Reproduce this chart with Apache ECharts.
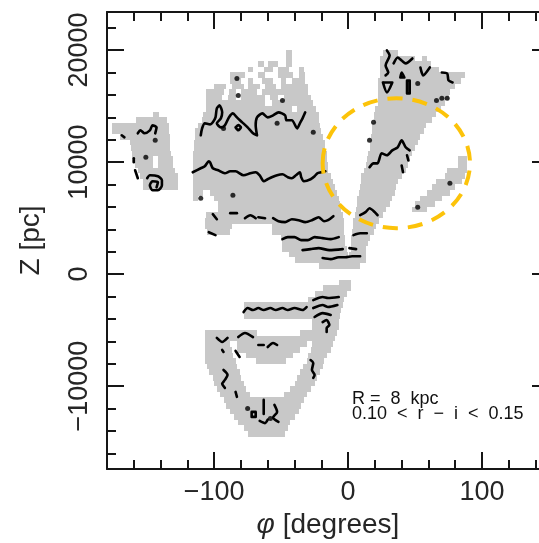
<!DOCTYPE html>
<html>
<head>
<meta charset="utf-8">
<script src="https://cdn.jsdelivr.net/npm/echarts@6/dist/echarts.min.js"></script>
<style>
  html, body { margin: 0; padding: 0; background: #fff; }
  #chart { width: 539px; height: 543px; }
</style>
</head>
<body>
<div id="chart"></div>
<script>
// Each occupied row segment: [zBottom (pc), phiStart (deg), phiEnd (deg)]; rows are ROW_H tall.
const ROW_H = 500;

const leftLobe = [
  [14000,-146,-141],
  [13500,-158,-135],
  [13000,-176,-134],
  [12500,-176,-134],
  [12000,-170,-133],
  [11500,-163,-133],
  [11000,-162,-133],
  [10500,-161,-132],
  [10000,-161,-146],[10000,-142,-131],
  [9500,-159,-146],[9500,-142,-131],
  [9000,-157,-129],
  [8500,-155,-127],
  [8000,-153,-127],
  [7500,-153,-127]
];

const mainLobe = [
  [19500,-46,-42],
  [19000,-46,-42],
  [18500,-67,-63],[18500,-60,-52],[18500,-46,-42],
  [18000,-75,-71],[18000,-63,-56],[18000,-52,-44],[18000,-37,-33],
  [17500,-88,-77],[17500,-67,-62],[17500,-52,-41],[17500,-37,-32],
  [17000,-88,-80],[17000,-75,-71],[17000,-64,-56],[17000,-50,-46],[17000,-42,-32],
  [16500,-100,-91],[16500,-87,-78],[16500,-75,-66],[16500,-62,-54],[16500,-50,-30],
  [16000,-106,-93],[16000,-89,-84],[16000,-80,-68],[16000,-64,-30],
  [15500,-106,-94],[15500,-90,-84],[15500,-80,-62],[15500,-58,-52],[15500,-48,-28],
  [15000,-106,-62],[15000,-57,-26],
  [14500,-106,-42],[14500,-38,-24],
  [14000,-108,-22],
  [13500,-109,-22],
  [13000,-112,-21],
  [12500,-114,-20],
  [12000,-114,-19],
  [11500,-115,-17],
  [11000,-115,-17],
  [10500,-116,-16],
  [10000,-116,-16],
  [9500,-116,-15],
  [9000,-116,-15],
  [8500,-116,-13],
  [8000,-116,-11],
  [7500,-116,-10],
  [7000,-116,-108],[7000,-103,-8],
  [6500,-116,-112],[6500,-100,-7],
  [6000,-97,-6],
  [5500,-97,-5],
  [5000,-106,-4],
  [4500,-107,-3],
  [4000,-107,-87],[4000,-57,-3],
  [3500,-105,-88],[3500,-57,-3],
  [3000,-50,-2],
  [2500,-49,-2],
  [2000,-49,-1],
  [1500,-44,0],
  [1000,-40,13],
  [500,-22,9]
];

const wedge = [
  [19500,26,37],
  [19000,24,50],[19000,55,59],
  [18500,24,62],
  [18000,24,68],
  [17500,24,87],
  [17000,22,84],
  [16500,22,80],
  [16000,22,76],
  [15500,22,75],
  [15000,22,72],
  [14500,20,69],
  [14000,19,66],
  [13500,19,63],
  [13000,18,58],
  [12500,18,57],
  [12000,17,54],
  [11500,16,52],
  [11000,16,50],
  [10500,15,48],
  [10000,14,46],
  [9500,13,45],
  [9000,12,43],
  [8500,10,40],
  [8000,10,37],
  [7500,9,36],
  [7000,8,35],
  [6500,7,33],
  [6000,7,31],
  [5500,6,28],
  [5000,5,26],
  [4500,4,23],
  [4000,4,21],
  [3500,3,19],
  [3000,2,16],
  [2500,2,15],
  [2000,2,13],
  [1500,1,13]
];

const strip = [
  [10000,82,89],[9500,82,89],[9000,74,89],[8500,72,87],[8000,66,85],
  [7500,63,80],[7000,59,76],[6500,54,70],[6000,50,65],[5500,48,59]
];

const lowerArc = [
  [-1000,-7,2],
  [-1500,-19,2],
  [-2000,-25,-1],
  [-2500,-30,-3],
  [-3000,-78,-4],
  [-3500,-78,-5],
  [-4000,-78,-6],
  [-4500,-27,-7],
  [-5000,-27,-7],
  [-5500,-107,-68],[-5500,-36,-8],
  [-6000,-107,-10],
  [-6500,-107,-88],[-6500,-83,-31],[-6500,-27,-11],
  [-7000,-107,-87],[-7000,-83,-36],[-7000,-28,-13],
  [-7500,-107,-86],[-7500,-76,-41],[-7500,-30,-16],
  [-8000,-107,-84],[-8000,-69,-46],[-8000,-31,-18],
  [-8500,-105,-83],[-8500,-34,-19],
  [-9000,-104,-81],[-9000,-36,-21],
  [-9500,-101,-80],[-9500,-38,-23],
  [-10000,-100,-78],[-10000,-40,-25],
  [-10500,-98,-76],[-10500,-43,-28],
  [-11000,-96,-73],[-11000,-48,-31],
  [-11500,-93,-33],
  [-12000,-91,-35],
  [-12500,-88,-37],
  [-13000,-85,-40],
  [-13500,-82,-43],
  [-14000,-78,-45],
  [-14500,-75,-47]
];

// Contour paths, [phi, Z] vertices
const contours = [
  [[-116,9090],[-110,9450],[-107,9630],[-104,10070],[-103,9980],[-101,9450],[-97,9270],[-92,9000],[-88,9180],[-84,9180],[-78,8820],[-73,9000],[-69,9090],[-66,8820],[-63,8290],[-60,8470],[-57,8650],[-53,8830],[-49,8910],[-45,8650],[-42,8560],[-39,8820],[-36,9090],[-35,8650],[-33,8290],[-28,8470],[-25,8740],[-23,9000],[-20,9090],[-17,9180]],
  [[-110,12390],[-109,13010],[-107,13460],[-103,13370],[-101,13550],[-99,13990],[-98,14800],[-96,15060],[-94,14440],[-95,13900],[-98,13460],[-95,13100],[-92,13280],[-89,13990],[-86,14350],[-83,13990],[-79,13550],[-75,13100],[-71,12570],[-68,12390],[-69,13280],[-68,13990],[-64,14350],[-60,13990],[-56,14170],[-52,14440],[-47,14170],[-46,13730],[-42,13730],[-38,13010],[-36,13460],[-34,13900],[-32,14440]],
  [[-84,13100],[-82,13300],[-80,13100],[-82,12850],[-84,13100]],
  [[-56,4990],[-52,4720],[-47,4640],[-42,4900],[-37,4810],[-32,4640],[-27,4810],[-22,5080],[-18,4720],[-15,4810],[-11,5170]],
  [[-49,3120],[-45,3300],[-40,3300],[-35,3030],[-30,3030],[-25,3300],[-19,3210],[-13,3120],[-7,3300]],
  [[-34,2140],[-28,2230],[-22,2320],[-14,2140],[-4,2230]],
  [[-19,1430],[-13,1340],[-7,1510],[-2,1510],[3,1600],[9,1600]],
  [[-88,5440],[-83,5440]],
  [[-77,4990],[-73,5260],[-69,4990]],
  [[-67,5080],[-62,4990]],
  [[-101,5350],[-98,4900]],
  [[-104,3740],[-99,3480]],
  [[16,9540],[19,9890],[22,9890],[25,10790],[29,10610],[33,11050],[37,11320],[40,11940],[43,11320],[46,11050]],
  [[44,10610],[45,10160]],
  [[40,9700],[41,9090]],
  [[9,5260],[13,5530],[16,5880],[20,5530],[22,5260]],
  [[4,3480],[9,3650],[14,3650]],
  [[1,2320],[6,2230]],
  [[29,19970],[31,19520],[28,18630],[30,18000],[28,17740]],
  [[34,18810],[37,19340],[40,19070],[43,18810],[48,19250]],
  [[26,17110],[33,17110],[29,16220],[26,17110]],
  [[39,17560],[42,17560],[40,18000],[39,17560]],
  [[44,17290],[46,17290],[46,16130],[44,16130],[44,17290]],
  [[54,18450],[56,17740],[61,18450]],
  [[70,18000],[74,17910],[75,17290],[78,17110]],
  [[-157,12570],[-155,12830],[-152,12570],[-148,12830],[-146,13280],[-143,13100],[-144,12570]],
  [[-150,8560],[-148,8820],[-142,8730],[-139,8380],[-139,7930],[-142,7480],[-146,7480],[-148,7930],[-146,8290],[-142,8200],[-143,7750]],
  [[-169,12390],[-167,12210]],
  [[-160,10340],[-160,9980]],
  [[-159,9270],[-157,8560]],
  [[-78,-3390],[-75,-3030],[-71,-3210],[-67,-3030],[-63,-3210],[-58,-3030],[-54,-3210],[-49,-3030],[-45,-3210],[-40,-3030],[-34,-3210],[-31,-2940]],
  [[-26,-2320],[-19,-2050],[-15,-2140],[-7,-2050]],
  [[-26,-3030],[-19,-2760],[-15,-2940],[-8,-2760]],
  [[-25,-3830],[-19,-3480],[-13,-3650]],
  [[-19,-4280],[-16,-4100],[-14,-4550],[-16,-4810],[-16,-5170]],
  [[-98,-5700],[-94,-6060],[-90,-5700]],
  [[-82,-5620],[-77,-5260],[-71,-5620]],
  [[-67,-6330],[-63,-6330]],
  [[-60,-6510],[-56,-6150],[-53,-6330]],
  [[-94,-6770],[-93,-6950]],
  [[-84,-6860],[-81,-7400]],
  [[-93,-8560],[-90,-9000],[-92,-9450],[-94,-9800],[-92,-10160]],
  [[-84,-10520],[-83,-10960]],
  [[-28,-7670],[-26,-7930],[-27,-8560],[-25,-9000],[-26,-9270]],
  [[-63,-11230],[-63,-12480]],
  [[-55,-11680],[-53,-12300],[-56,-12800],[-52,-13200]],
  [[-72,-12300],[-69,-12300],[-69,-12750],[-72,-12750],[-72,-12300]],
  [[-66,-13100],[-62,-13300],[-60,-13000]]
];

// Isolated contour dots
const dots = [
  [-86,7040],[-93,13010],[-83,17470],[-82,15950],[-49,15510],[-53,13460],[-26,12660],
  [-144,11940],[-151,10430],[19,13550],[16,11940],[66,15510],[70,15690],[74,15690],
  [52,17020],[76,8110],[52,5970],[-110,6770],[-75,-12000],[-58,-12900]
];

// Highlight ellipse: [phiCenter, zCenter, phiRadius, zRadius]
const highlight = [36, 9900, 55, 5800];

// Axis ticks and labels
const phiRange = [-180, 150];
const zRange = [-17400, 23400];
const phiMinorStep = 20;
const phiMajorTicks = [-100, 0, 100];
const zMajorTicks = [-10000, 0, 10000, 20000];
const zMinorTicks = [-16000, -14000, -12000, -10000, -8000, -6000, -4000, -2000, 0, 2000,
  4000, 6000, 8000, 10000, 12000, 14000, 16000, 18000, 20000, 22000];

const INK = '#161616';
const TEXT = '#262626';
const FONT = '"Liberation Sans", Arial, sans-serif';
const fmt = v => (v < 0 ? '\u2212' + Math.abs(v) : String(v));

const cellRuns = [].concat(leftLobe, mainLobe, wedge, strip, lowerArc);

function xAx(position, major, withLabels) {
  const ax = {
    type: 'value', position: position, min: phiRange[0], max: phiRange[1],
    interval: phiMinorStep,
    splitLine: { show: false },
    axisLine: { show: !major, onZero: false, lineStyle: { color: INK, width: 2 } },
    axisTick: { show: true, inside: true, length: major ? 17 : 9, lineStyle: { color: INK, width: 2 } },
    axisLabel: { show: false }
  };
  if (major) ax.axisTick.customValues = phiMajorTicks;
  if (withLabels) {
    ax.axisLabel = {
      show: true, customValues: phiMajorTicks, formatter: fmt, margin: 10,
      fontSize: 27, fontFamily: FONT, color: TEXT
    };
    ax.name = '{i|\u03c6} [degrees]';
    ax.nameLocation = 'middle';
    ax.nameGap = 40;
    ax.nameTextStyle = {
      fontSize: 28, fontFamily: FONT, color: TEXT,
      rich: { i: { fontSize: 28, fontStyle: 'italic', fontFamily: FONT, color: TEXT } }
    };
  }
  return ax;
}

function yAx(position, major, withLabels, showLine) {
  const ax = {
    type: 'value', position: position, min: zRange[0], max: zRange[1],
    splitLine: { show: false },
    axisLine: { show: showLine, onZero: false, lineStyle: { color: INK, width: 2 } },
    axisTick: { show: true, inside: true, length: major ? 17 : 9,
      customValues: major ? zMajorTicks : zMinorTicks, lineStyle: { color: INK, width: 2 } },
    axisLabel: { show: false }
  };
  if (withLabels) {
    ax.axisLabel = {
      show: true, customValues: zMajorTicks, formatter: fmt, rotate: 90, margin: 14,
      fontSize: 27, fontFamily: FONT, color: TEXT
    };
    ax.name = 'Z [pc]';
    ax.nameLocation = 'middle';
    ax.nameGap = 62;
    ax.nameTextStyle = { fontSize: 28, fontFamily: FONT, color: TEXT };
  }
  return ax;
}

const series = [];

series.push({
  type: 'custom',
  z: 1,
  clip: true,
  silent: true,
  encode: { x: 0, y: 1 },
  data: cellRuns.map(r => [r[1], r[0], r[2]]),
  renderItem: function (params, api) {
    const a = api.coord([api.value(0), api.value(1) + ROW_H]);
    const b = api.coord([api.value(2), api.value(1)]);
    const x0 = Math.round(a[0]), y0 = Math.round(a[1]);
    const x1 = Math.round(b[0]), y1 = Math.round(b[1]);
    return {
      type: 'rect',
      shape: { x: x0, y: y0, width: x1 - x0, height: y1 - y0 },
      style: { fill: '#c8c8c8' }
    };
  }
});

contours.forEach(path => {
  series.push({
    type: 'line',
    z: 3,
    silent: true,
    symbol: 'none',
    smooth: 0.25,
    data: path,
    lineStyle: { color: '#000', width: 2.6, cap: 'round', join: 'round' }
  });
});

series.push({
  type: 'scatter',
  z: 3,
  silent: true,
  symbol: 'circle',
  symbolSize: 5,
  data: dots,
  itemStyle: { color: '#000' }
});

series.push({
  type: 'custom',
  z: 5,
  silent: true,
  clip: false,
  encode: { x: 0, y: 1 },
  data: [highlight],
  renderItem: function (params, api) {
    const c = api.coord([api.value(0), api.value(1)]);
    const s = api.size([api.value(2), api.value(3)]);
    return {
      type: 'ellipse',
      shape: { cx: c[0], cy: c[1], rx: s[0], ry: s[1] },
      style: { fill: 'none', stroke: '#fcc30a', lineWidth: 4, lineDash: [15, 10] }
    };
  }
});

const chart = echarts.init(document.getElementById('chart'), null, { renderer: 'canvas' });
chart.setOption({
  animation: false,
  backgroundColor: '#fff',
  grid: { left: 107, top: 12, width: 442, height: 457, containLabel: false, outerBoundsMode: 'none' },
  xAxis: [xAx('bottom', false, true), xAx('bottom', true, false), xAx('top', false, false), xAx('top', true, false)],
  yAxis: [yAx('left', false, true, true), yAx('left', true, false, false), yAx('right', true, false, false)],
  graphic: [
    { type: 'text', left: 352, top: 390, z: 10,
      style: { text: 'R =  8  kpc', font: '18px ' + FONT, fill: '#111' } },
    { type: 'text', left: 352, top: 405, z: 10,
      style: { text: '0.10  <  r  \u2212  i  <  0.15', font: '18px ' + FONT, fill: '#111' } }
  ],
  series: series
});
</script>
</body>
</html>
